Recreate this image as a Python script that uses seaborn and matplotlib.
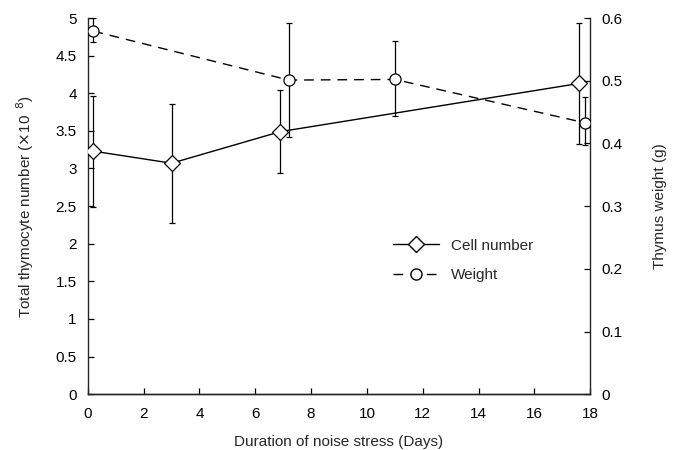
import matplotlib
matplotlib.use("Agg")
import matplotlib.pyplot as plt
import numpy as np
import pandas as pd
import seaborn as sns
from matplotlib.lines import Line2D

#data
#-----------------------------------
cell_days = [0.2, 3.0, 6.9, 17.6]
cell_number = [3.23, 3.07, 3.49, 4.13]
cell_low = [2.49, 2.27, 2.94, 3.33]
cell_high = [3.96, 3.86, 4.04, 4.93]

weight_days = [0.2, 7.2, 11.0, 17.8]
weight = [0.579, 0.501, 0.502, 0.433]
weight_low = [0.562, 0.410, 0.443, 0.398]
weight_high = [0.600, 0.592, 0.563, 0.474]

x_ticks = list(range(0, 19, 2))
left_ticks = [0, 0.5, 1, 1.5, 2, 2.5, 3, 3.5, 4, 4.5, 5]
right_ticks = [0, 0.1, 0.2, 0.3, 0.4, 0.5, 0.6]

sns.set_style("ticks")
plt.rcParams['font.family'] = ['Liberation Sans', 'DejaVu Sans']

cell_df = pd.DataFrame({"day": cell_days, "value": cell_number})
weight_df = pd.DataFrame({"day": weight_days, "value": weight})

dash = (0, (7, 5))

fig = plt.figure(figsize=(6.76, 4.5), dpi=100)
ax = fig.add_axes([0.130, 0.124, 0.743, 0.836])
ax2 = ax.twinx()

#cell number on the left axis
ax.errorbar(cell_days, cell_number,
            yerr=[np.subtract(cell_number, cell_low), np.subtract(cell_high, cell_number)],
            fmt='none', ecolor='black', elinewidth=0.9, capsize=2.5, capthick=0.9, zorder=2)
sns.lineplot(data=cell_df, x="day", y="value", ax=ax, color='black', linewidth=1.0,
             marker='D', markersize=8, markerfacecolor='white', markeredgecolor='black',
             markeredgewidth=0.9, zorder=3)

#thymus weight on the right axis
ax2.errorbar(weight_days, weight,
             yerr=[np.subtract(weight, weight_low), np.subtract(weight_high, weight)],
             fmt='none', ecolor='black', elinewidth=0.9, capsize=2.5, capthick=0.9, zorder=2)
sns.lineplot(data=weight_df, x="day", y="value", ax=ax2, color='black', linewidth=1.0,
             linestyle=dash, marker='o', markersize=8, markerfacecolor='white',
             markeredgecolor='black', markeredgewidth=0.9, zorder=3)

ax.set_xlim(0, 18)
ax.set_ylim(0, 5)
ax2.set_ylim(0, 0.6)
ax.set_xticks(x_ticks)
ax.set_yticks(left_ticks)
ax.set_yticklabels([f"{t:g}" for t in left_ticks])
ax2.set_yticks(right_ticks)
ax2.set_yticklabels([f"{t:g}" for t in right_ticks])

for a in (ax, ax2):
    a.spines['top'].set_visible(False)
    for s in a.spines.values():
        s.set_linewidth(1.0)
    a.tick_params(direction='in', length=4, width=0.9, labelsize=11, colors='black')
ax.tick_params(axis='x', pad=9)
ax.tick_params(axis='y', pad=8)
ax2.tick_params(axis='y', pad=8)
ax2.spines['left'].set_visible(False)
ax.spines['right'].set_visible(False)

ax.set_xlabel("Duration of noise stress (Days)", fontsize=11, labelpad=10)
ax.set_ylabel(r"Total thymocyte number ($\times$10$^{\ \ 8}$)", fontsize=11, labelpad=14)
ax2.set_ylabel("Thymus weight (g)", fontsize=11, labelpad=22)
ax2.set_xlabel("")

#legend
handles = [
    Line2D([], [], color='black', linewidth=1.0, marker='D', markersize=8,
           markerfacecolor='white', markeredgecolor='black'),
    Line2D([], [], color='black', linewidth=1.0, linestyle=dash, marker='o',
           markersize=8, markerfacecolor='white', markeredgecolor='black'),
]
ax.legend(handles, ["Cell number", "Weight"], loc='upper left',
          bbox_to_anchor=(0.58, 0.45), frameon=False, fontsize=11,
          handlelength=3.0, labelspacing=1.0)

fig.savefig("out.png", dpi=100)
